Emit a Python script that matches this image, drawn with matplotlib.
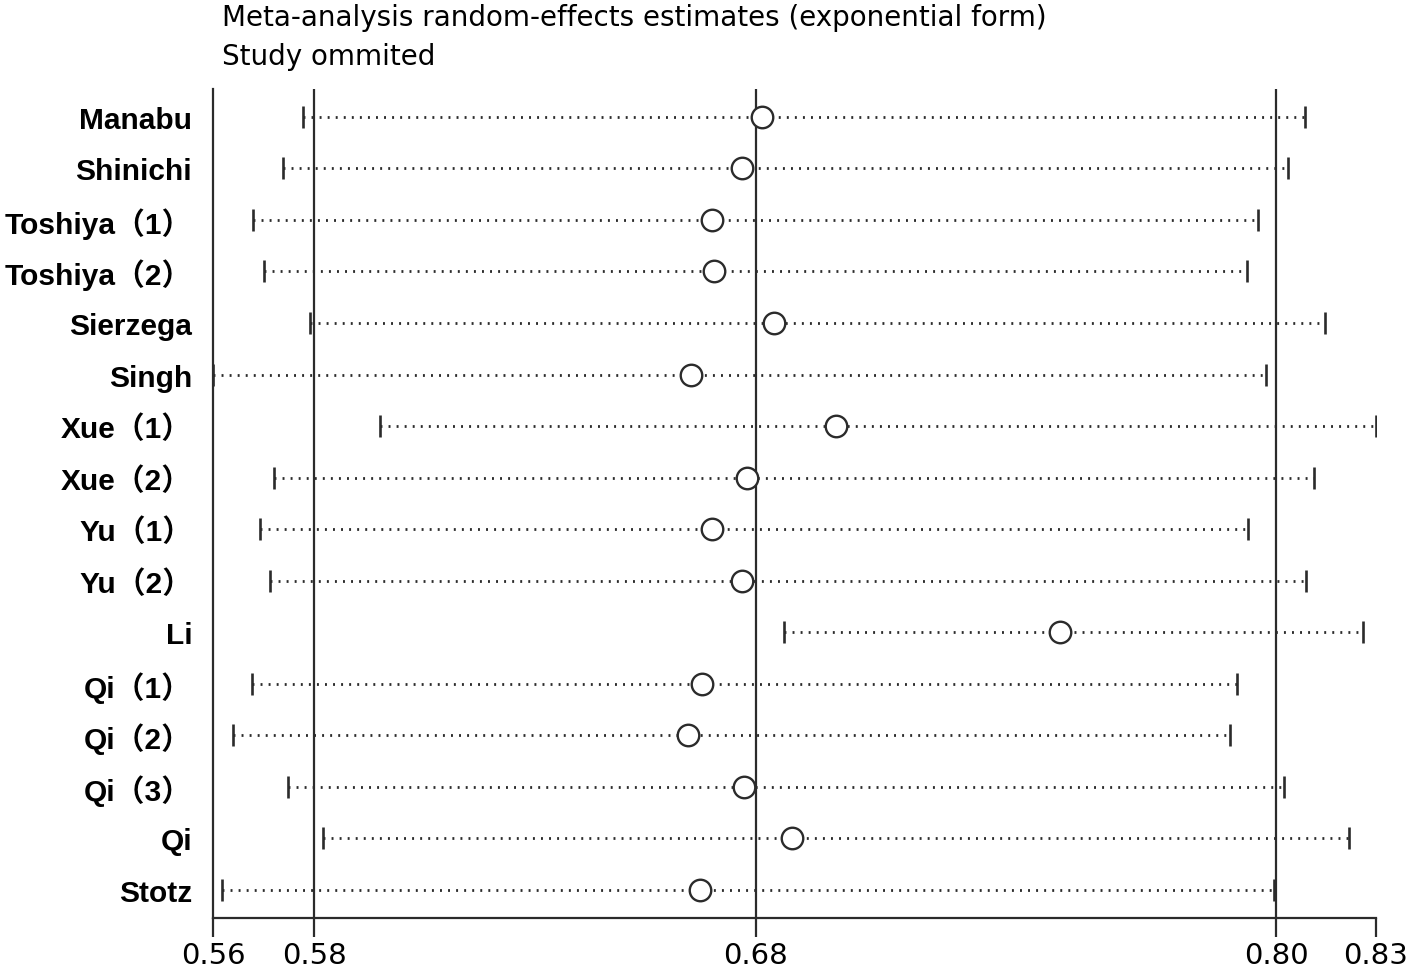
import matplotlib
matplotlib.use("Agg")
import matplotlib.pyplot as plt

plt.rcParams["font.family"] = ["Liberation Sans", "Noto Sans CJK SC"]

# study omitted, pooled estimate with the rest (exp form) and its 95% CI
studies = ["Manabu", "Shinichi", "Toshiya（1）", "Toshiya（2）", "Sierzega",
           "Singh", "Xue（1）", "Xue（2）", "Yu（1）", "Yu（2）", "Li",
           "Qi（1）", "Qi（2）", "Qi（3）", "Qi", "Stotz"]
est = [0.6836, 0.6790, 0.6720, 0.6725, 0.6865, 0.6672, 0.7010, 0.6803,
       0.6720, 0.6791, 0.7530, 0.6698, 0.6665, 0.6794, 0.6907, 0.6693]
lower = [0.5770, 0.5722, 0.5654, 0.5678, 0.5786, 0.5560, 0.5948, 0.5702,
         0.5669, 0.5692, 0.6887, 0.5650, 0.5607, 0.5734, 0.5815, 0.5582]
upper = [0.8100, 0.8059, 0.7990, 0.7965, 0.8147, 0.8010, 0.8264, 0.8121,
         0.7968, 0.8101, 0.8234, 0.7941, 0.7924, 0.8051, 0.8203, 0.8027]

# overall estimate with all studies: lower CI, estimate, upper CI
overall = [0.5796, 0.6822, 0.8032]
xrange_ = [0.5560, 0.8264]

ink = "#2b2b2b"
W, H = 1418, 970
fig = plt.figure(figsize=(W / 100, H / 100), dpi=100)
ax = fig.add_axes([213 / W, 1 - 919.3 / H, (1375.7 - 213) / W, (919.3 - 90) / H])

for i, (lo, e, hi) in enumerate(zip(lower, est, upper)):
    ax.plot([lo, hi], [i, i], ls=(0, (0.7, 2.2)), lw=2.0, color=ink, zorder=2)
    ax.plot([lo, hi], [i, i], ls="none", marker="|", ms=16.5, mew=1.9,
            color=ink, zorder=3)
    ax.plot(e, i, ls="none", marker="o", ms=15.5, mfc="white", mec=ink,
            mew=1.7, zorder=4)

for v in overall:
    ax.axvline(v, color=ink, lw=1.6, zorder=1)

ax.set_xlim(*xrange_)
ax.set_ylim(len(studies) - 1 + 0.55, -0.54)
ticks = [xrange_[0]] + overall + [xrange_[1]]
ax.set_xticks(ticks)
ax.set_xticklabels([f"{t:.2f}" for t in ticks], fontsize=21,
                   family=["DejaVu Sans"])
ax.set_yticks(range(len(studies)))
ax.set_yticklabels(studies, fontsize=21.5, fontweight="bold")
ax.tick_params(axis="y", length=0, pad=15)
ax.tick_params(axis="x", direction="out", length=14, width=1.6, color=ink, pad=2)

for s in ("top", "right"):
    ax.spines[s].set_visible(False)
for s in ("left", "bottom"):
    ax.spines[s].set_linewidth(1.6)
    ax.spines[s].set_color(ink)

title_font = dict(fontsize=20, va="center", ha="left", family=["DejaVu Sans"])
fig.text(222 / W, 1 - 18 / H,
         "Meta-analysis random-effects estimates (exponential form)", **title_font)
fig.text(222 / W, 1 - 57 / H, "Study ommited", **title_font)

fig.savefig("out.png", dpi=100)
